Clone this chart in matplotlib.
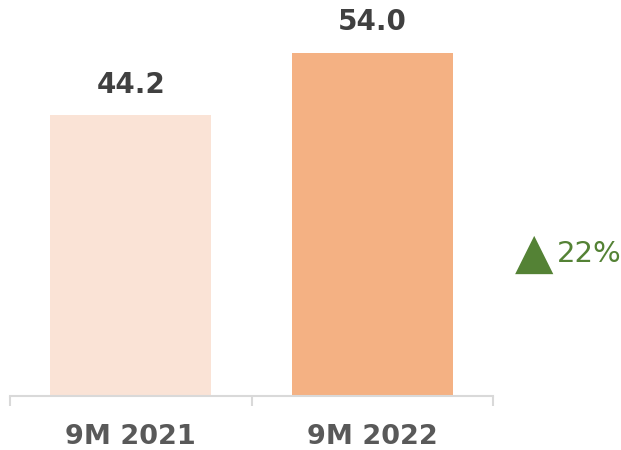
import matplotlib.pyplot as plt
import numpy as np

categories = ["9M 2021", "9M 2022"]
values = [44.2, 54.0]
bar_colors = ["#FAE3D6", "#F4B183"]
change_label = "22%"

GRID = "#D9D9D9"
GREEN = "#548235"

fig = plt.figure(figsize=(6.21, 4.5), dpi=100)
ax = fig.add_axes([10 / 621, 54 / 450, 483 / 621, 381 / 450])

x = np.arange(len(categories))
bars = ax.bar(x, values, width=0.667, color=bar_colors)

ax.set_xlim(-0.5, len(categories) - 0.5)
ax.set_ylim(0, 60)

for rect, v in zip(bars, values):
    ax.annotate(f"{v:.1f}", (rect.get_x() + rect.get_width() / 2, v),
                xytext=(0, 12), textcoords="offset points", ha="center", va="bottom",
                fontsize=20, fontweight="bold", color="#404040")

for s in ["top", "right", "left"]:
    ax.spines[s].set_visible(False)
ax.spines["bottom"].set_color(GRID)
ax.spines["bottom"].set_linewidth(1.5)
ax.set_yticks([])

ax.set_xticks(x)
ax.set_xticklabels(categories, fontsize=19.5, fontweight="bold", color="#595959")
ax.tick_params(axis="x", which="major", length=0, pad=20)
ax.set_xticks(np.arange(-0.5, len(categories)), minor=True)
ax.tick_params(axis="x", which="minor", length=7, width=1.5, color=GRID, direction="out")

fig.text(534 / 621, 1 - 254 / 450, "▲", ha="center", va="center", fontsize=36, color=GREEN)
fig.text(557 / 621, 1 - 254 / 450, change_label, ha="left", va="center", fontsize=21, color=GREEN)

fig.savefig("out.png", dpi=100)
